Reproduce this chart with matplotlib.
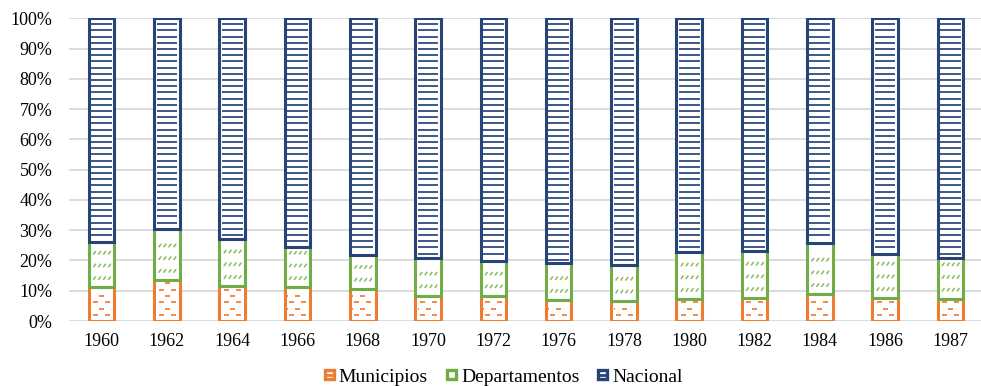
import numpy as np
import matplotlib
matplotlib.use("Agg")
import matplotlib.pyplot as plt
from matplotlib.collections import LineCollection
from matplotlib.patches import Rectangle
from matplotlib.lines import Line2D
from matplotlib.legend_handler import HandlerBase

years = ['1960', '1962', '1964', '1966', '1968', '1970', '1972',
         '1976', '1978', '1980', '1982', '1984', '1986', '1987']
municipios = [11.1, 13.5, 11.5, 11.1, 10.6, 8.4, 8.4, 6.9, 6.7, 7.2, 7.5, 8.8, 7.5, 7.3]
departamentos = [14.9, 17.0, 15.5, 13.4, 11.2, 12.3, 11.4, 12.1, 11.8, 15.5, 15.7, 17.0, 14.6, 13.4]
nacional = [100 - m - d for m, d in zip(municipios, departamentos)]

series_names = ['Municipios', 'Departamentos', 'Nacional']
colors = ['#ED7D31', '#70AD47', '#264478']
pattern_colors = ['#F08A48', '#86BC5C', '#2E4C80']

plt.rcParams['font.family'] = ['Liberation Serif', 'DejaVu Serif']

W, H, DPI = 981, 386, 100
fig = plt.figure(figsize=(W / DPI, H / DPI), dpi=DPI)
ax_left, ax_bottom = 69 / W, 65 / H
ax_w, ax_h = 914 / W, 302.7 / H
ax = fig.add_axes([ax_left, ax_bottom, ax_w, ax_h])

n = len(years)
x = np.arange(n)
xmin, xmax = -0.5, n - 0.5
ax.set_xlim(xmin, xmax)
ax.set_ylim(0, 100)

# data units per pixel
px_x = (xmax - xmin) / (ax_w * W)
px_y = 100 / (ax_h * H)

bar_w = 0.39
edge_lw = 2.2

for v in range(0, 101, 10):
    ax.axhline(v, color='#D9D9D9', lw=1.3, zorder=0)


def pattern_segments(kind, left, right, bottom, top):
    """Build short line segments that fill one bar section with its texture."""
    inset_x = 2.4 * px_x
    inset_y = 2.4 * px_y
    l, r = left + inset_x, right - inset_x
    b, t = bottom + inset_y, top - inset_y
    segs = []
    if t <= b:
        return segs
    if kind == 0:
        # staggered horizontal dashes
        dy = 6.3 * px_y
        dash = 5.0 * px_x
        period = 12.0 * px_x
        for k, yy in enumerate(np.arange(b + dy * 0.6, t, dy)):
            off = (k % 2) * period / 2
            xs = l - period + off + 2 * px_x
            while xs < r:
                x0, x1 = max(xs, l), min(xs + dash, r)
                if x1 - x0 > 1.0 * px_x:
                    segs.append([(x0, yy), (x1, yy)])
                xs += period
    elif kind == 1:
        # rows of small slanted strokes
        dy = 12.7 * px_y
        step = 5.0 * px_x
        sw, sh = 2.5 * px_x, 3.5 * px_y
        for yy in np.arange(b + dy * 0.4, t - sh, dy):
            xs = l + 2.0 * px_x
            while xs + sw < r:
                segs.append([(xs, yy), (xs + sw, yy + sh)])
                xs += step
    else:
        # horizontal rules
        dy = 6.2 * px_y
        for yy in np.arange(t - dy * 0.55, b, -dy):
            segs.append([(l, yy), (r, yy)])
    return segs


bottoms = np.zeros(n)
for s, vals in enumerate([municipios, departamentos, nacional]):
    vals = np.array(vals)
    ax.bar(x, vals, bar_w, bottom=bottoms, facecolor='white',
           edgecolor=colors[s], linewidth=edge_lw, zorder=2 + s)
    segs = []
    for i in range(n):
        segs += pattern_segments(s, x[i] - bar_w / 2, x[i] + bar_w / 2,
                                 bottoms[i], bottoms[i] + vals[i])
    lw = [1.4, 1.1, 1.3][s]
    ax.add_collection(LineCollection(segs, colors=pattern_colors[s],
                                     linewidths=lw, zorder=2 + s + 0.5))
    bottoms = bottoms + vals

ax.set_xticks(x)
ax.set_xticklabels(years)
ax.set_yticks(range(0, 101, 10))
ax.set_yticklabels([f'{v}%' for v in range(0, 101, 10)])
ax.tick_params(axis='both', length=0, labelsize=13, colors='black')
ax.tick_params(axis='x', pad=9)
ax.tick_params(axis='y', pad=12)
for sp in ax.spines.values():
    sp.set_visible(False)


class SquareKey:
    """Legend key stand-in: outlined square, optionally with a centre rule."""
    def __init__(self, color, ruled):
        self.color = color
        self.ruled = ruled


class SquareKeyHandler(HandlerBase):
    def create_artists(self, legend, orig_handle, xdescent, ydescent,
                       width, height, fontsize, trans):
        size = 6.5
        cx = width / 2 - xdescent
        cy = height / 2 - ydescent
        box = Rectangle((cx - size / 2, cy - size / 2), size, size,
                        facecolor='white', edgecolor=orig_handle.color,
                        linewidth=2.4, transform=trans)
        artists = [box]
        if orig_handle.ruled:
            rule = Line2D([cx - size / 2, cx + size / 2], [cy, cy],
                          color=orig_handle.color, lw=2.0, transform=trans)
            artists.append(rule)
        return artists


keys = [SquareKey(c, s != 1) for s, c in enumerate(colors)]
fig.legend(handles=keys, labels=series_names, loc='center',
           bbox_to_anchor=(503 / W, 1 - 377 / H),
           handler_map={SquareKey: SquareKeyHandler()},
           ncol=3, frameon=False, fontsize=14, handlelength=0.6, handleheight=0.6,
           handletextpad=0.2, columnspacing=0.9, borderaxespad=0)

fig.savefig('out.png', dpi=DPI)
